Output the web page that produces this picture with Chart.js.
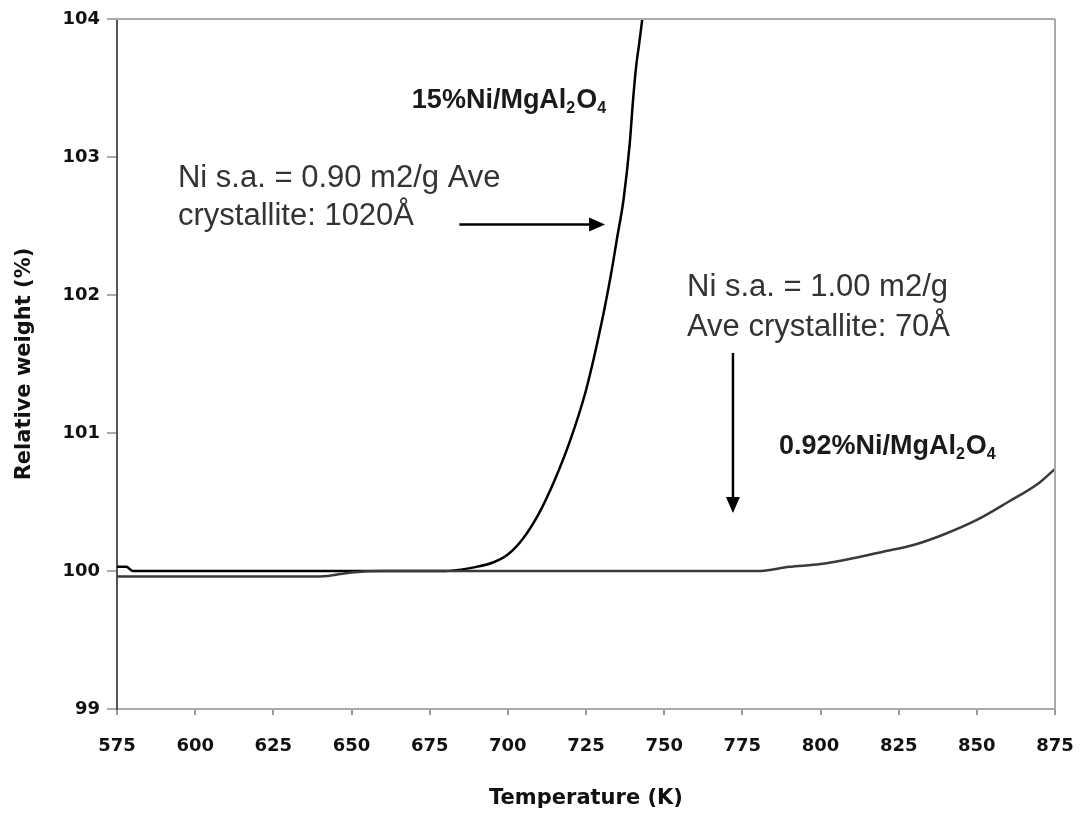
<!DOCTYPE html>
<html>
<head>
<meta charset="utf-8">
<script src="https://cdn.jsdelivr.net/npm/chart.js@4"></script>
<style>
  html, body { margin: 0; padding: 0; background: #fff; }
  #wrap { width: 1080px; height: 815px; }
</style>
</head>
<body>
<div id="wrap"><canvas id="tgaChart"></canvas></div>
<script>
// ==========================================
// TGA: relative weight vs temperature
// ==========================================

// 15%Ni/MgAl2O4 curve
const temp15 = [575, 578, 580, 600, 650, 680, 685, 690, 695, 700, 705, 710, 715, 720, 725, 730, 733, 735, 737, 739, 740, 741, 742, 743];
const weight15 = [100.03, 100.03, 100.0, 100.0, 100.0, 100.0, 100.01, 100.03, 100.06, 100.12, 100.24, 100.42, 100.66, 100.95, 101.31, 101.8, 102.15, 102.42, 102.69, 103.1, 103.4, 103.65, 103.82, 104.0];

// 0.92%Ni/MgAl2O4 curve
const temp092 = [575, 640, 650, 660, 700, 780, 790, 800, 810, 820, 830, 840, 850, 860, 870, 875];
const weight092 = [99.96, 99.96, 99.99, 100.0, 100.0, 100.0, 100.03, 100.05, 100.09, 100.14, 100.19, 100.27, 100.37, 100.5, 100.64, 100.74];

// axis ticks
const xTicks = [575, 600, 625, 650, 675, 700, 725, 750, 775, 800, 825, 850, 875];
const yTicks = [99, 100, 101, 102, 103, 104];

// notes drawn on the plot (data coordinates)
const noteLabels = [
  { x: 669.3, y: 103.355, parts: [['15%Ni/MgAl'], ['2', 1], ['O'], ['4', 1]] },
  { x: 786.7, y: 100.85, parts: [['0.92%Ni/MgAl'], ['2', 1], ['O'], ['4', 1]] },
];
const noteTexts = [
  { x: 594.5, y: 102.78, text: 'Ni s.a. = 0.90 m2/g Ave' },
  { x: 594.5, y: 102.505, text: 'crystallite: 1020\u00c5' },
  { x: 757.3, y: 101.99, text: 'Ni s.a. = 1.00 m2/g' },
  { x: 757.3, y: 101.705, text: 'Ave crystallite: 70\u00c5' },
];
const arrows = [
  { x0: 684.5, y0: 102.51, x1: 731.1, y1: 102.51 },
  { x0: 772.0, y0: 101.58, x1: 772.0, y1: 100.42 },
];

const toXY = (xs, ys) => xs.map((x, i) => ({ x: x, y: ys[i] }));

const notesPlugin = {
  id: 'notes',
  afterDatasetsDraw(chart) {
    const ctx = chart.ctx;
    const sx = chart.scales.x, sy = chart.scales.y;
    const area = chart.chartArea;
    ctx.save();

    // top and right frame lines
    ctx.strokeStyle = '#aaa';
    ctx.lineWidth = 2;
    ctx.beginPath();
    ctx.moveTo(area.left - 10, area.top);
    ctx.lineTo(area.right, area.top);
    ctx.moveTo(area.right, area.top);
    ctx.lineTo(area.right, area.bottom);
    ctx.stroke();

    // annotation text
    ctx.fillStyle = '#333';
    ctx.font = '31px "Liberation Sans", Arial, sans-serif';
    ctx.textBaseline = 'alphabetic';
    ctx.textAlign = 'left';
    noteTexts.forEach(n => {
      ctx.fillText(n.text, sx.getPixelForValue(n.x), sy.getPixelForValue(n.y));
    });

    // series labels with subscripts
    ctx.fillStyle = '#1a1a1a';
    noteLabels.forEach(n => {
      let px = sx.getPixelForValue(n.x);
      const py = sy.getPixelForValue(n.y);
      n.parts.forEach(p => {
        const sub = p[1] === 1;
        ctx.font = (sub ? 'bold 16px' : 'bold 27px') + ' "Liberation Sans", Arial, sans-serif';
        ctx.fillText(p[0], px, py + (sub ? 5 : 0));
        px += ctx.measureText(p[0]).width + (sub ? 1 : 0);
      });
    });

    // arrows
    ctx.strokeStyle = '#000';
    ctx.fillStyle = '#000';
    ctx.lineWidth = 2.5;
    arrows.forEach(a => {
      const x0 = sx.getPixelForValue(a.x0), y0 = sy.getPixelForValue(a.y0);
      const x1 = sx.getPixelForValue(a.x1), y1 = sy.getPixelForValue(a.y1);
      const ang = Math.atan2(y1 - y0, x1 - x0);
      const len = 16, half = 7;
      const bx = x1 - len * Math.cos(ang), by = y1 - len * Math.sin(ang);
      ctx.beginPath();
      ctx.moveTo(x0, y0);
      ctx.lineTo(bx, by);
      ctx.stroke();
      ctx.beginPath();
      ctx.moveTo(x1, y1);
      ctx.lineTo(bx + half * Math.sin(ang), by - half * Math.cos(ang));
      ctx.lineTo(bx - half * Math.sin(ang), by + half * Math.cos(ang));
      ctx.closePath();
      ctx.fill();
    });
    ctx.restore();
  },
};

const tickFont = { family: '"DejaVu Sans", sans-serif', size: 18, weight: 'bold' };
const titleFont = { family: '"DejaVu Sans", sans-serif', size: 21, weight: 'bold' };

const tgaConfig = {
  type: 'line',
  data: {
    datasets: [
      {
        label: '0.92%Ni/MgAl2O4',
        data: toXY(temp092, weight092),
        borderColor: '#3a3a3a',
        borderWidth: 2.5,
        pointRadius: 0,
        cubicInterpolationMode: 'monotone',
        fill: false,
      },
      {
        label: '15%Ni/MgAl2O4',
        data: toXY(temp15, weight15),
        borderColor: '#000',
        borderWidth: 2.5,
        pointRadius: 0,
        cubicInterpolationMode: 'monotone',
        fill: false,
      },
    ],
  },
  options: {
    responsive: true,
    maintainAspectRatio: false,
    animation: false,
    layout: { padding: { top: 19, right: 25, left: 0, bottom: 0 } },
    plugins: {
      legend: { display: false },
      tooltip: { enabled: false },
      title: { display: false },
    },
    scales: {
      x: {
        type: 'linear',
        min: 575,
        max: 875,
        afterBuildTicks: s => { s.ticks = xTicks.map(v => ({ value: v })); },
        afterFit: s => { s.height = 106; s.paddingLeft = 0; s.paddingRight = 0; },
        ticks: { color: '#111', font: tickFont, padding: 21, maxRotation: 0, autoSkip: false },
        grid: { drawOnChartArea: false, drawTicks: true, tickLength: 6, color: '#999', lineWidth: 2 },
        border: { display: true, color: '#aaa', width: 2 },
        title: {
          display: true,
          text: 'Temperature (K)',
          color: '#111',
          font: titleFont,
          padding: { top: 0, bottom: 4 },
        },
      },
      y: {
        type: 'linear',
        min: 99,
        max: 104,
        afterBuildTicks: s => { s.ticks = yTicks.map(v => ({ value: v })); },
        afterFit: s => { s.width = 117; s.paddingTop = 0; s.paddingBottom = 0; },
        ticks: { color: '#111', font: tickFont, padding: 7 },
        grid: { drawOnChartArea: false, drawTicks: true, tickLength: 10, color: '#aaa', lineWidth: 2 },
        border: { display: true, color: '#555', width: 2 },
        title: {
          display: true,
          text: 'Relative weight (%)',
          color: '#111',
          font: titleFont,
          padding: { top: 12, bottom: 0 },
        },
      },
    },
  },
  plugins: [notesPlugin],
};

const tgaChart = new Chart(document.getElementById('tgaChart'), tgaConfig);
</script>
</body>
</html>
